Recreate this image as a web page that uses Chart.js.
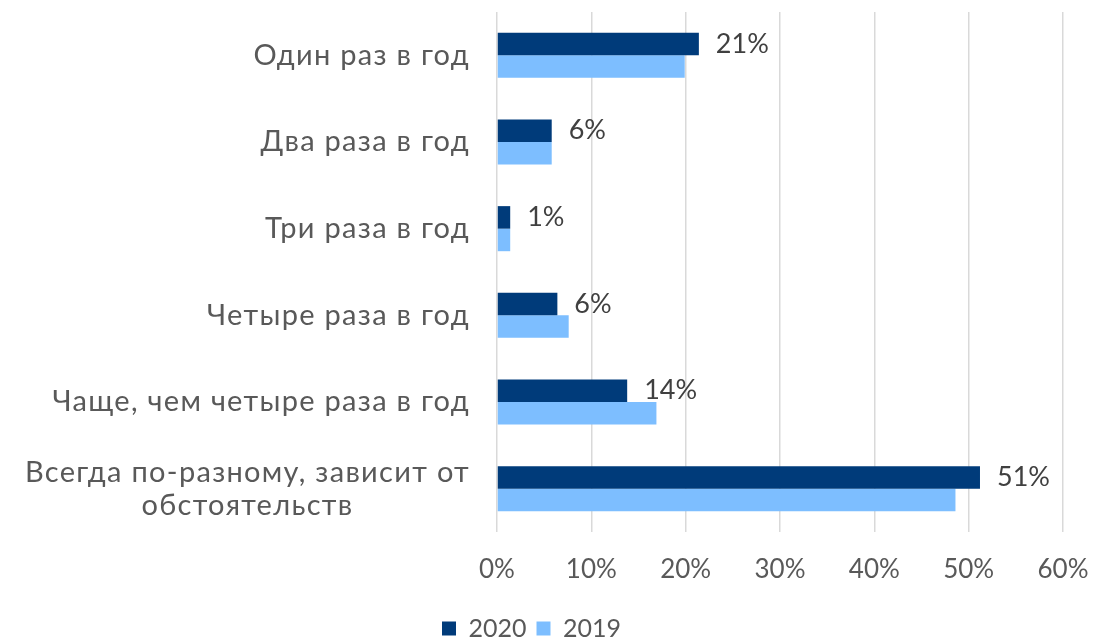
<!DOCTYPE html>
<html>
<head>
<meta charset="utf-8">
<script src="https://cdn.jsdelivr.net/npm/chart.js@4"></script>
<style>
  body { margin: 0; background: #fff; }
  #wrap { width: 1095px; height: 641px; }
</style>
</head>
<body>
<div id="wrap"><canvas id="chart"></canvas></div>
<script>
const categories = [
  ["Один раз в год"],
  ["Два раза в год"],
  ["Три раза в год"],
  ["Четыре раза в год"],
  ["Чаще, чем четыре раза в год"],
  ["Всегда по-разному, зависит от", "обстоятельств"]
];
const values2020 = [21.4, 5.8, 1.4, 6.4, 13.8, 51.2];
const values2019 = [19.9, 5.8, 1.4, 7.6, 16.9, 48.6];
const xTicks = [0, 10, 20, 30, 40, 50, 60];

const FONT = "Lato, 'Open Sans', sans-serif";
const TEXT = "#595959";

// подписи категорий: короткие - по правому краю, многострочные - по центру
const yLabels = {
  id: "yLabels",
  afterDraw(c) {
    const ctx = c.ctx;
    const y = c.scales.y;
    ctx.save();
    ctx.font = "29px " + FONT;
    ctx.letterSpacing = "1.3px";
    ctx.fillStyle = TEXT;
    ctx.textBaseline = "middle";
    ctx.textAlign = "center";
    const right = c.chartArea.left - 27;
    categories.forEach((lines, i) => {
      const w = Math.max(...lines.map(s => ctx.measureText(s).width));
      const cx = right - w / 2;
      const cy = y.getPixelForValue(i);
      const lh = 33;
      lines.forEach((s, k) => {
        ctx.fillText(s, cx, cy + (k - (lines.length - 1) / 2) * lh);
      });
    });
    ctx.restore();
  }
};

// подписи значений для 2020
const valueLabels = {
  id: "valueLabels",
  afterDatasetsDraw(c) {
    const ctx = c.ctx;
    const meta = c.getDatasetMeta(0);
    ctx.save();
    ctx.font = "27px " + FONT;
    ctx.fillStyle = "#404040";
    ctx.textBaseline = "middle";
    ctx.textAlign = "left";
    meta.data.forEach((bar, i) => {
      ctx.fillText(Math.round(values2020[i]) + "%", bar.x + 17, bar.y);
    });
    ctx.restore();
  }
};

new Chart(document.getElementById("chart"), {
  type: "bar",
  data: {
    labels: categories,
    datasets: [
      { label: "2020", data: values2020, backgroundColor: "#003B7A" },
      { label: "2019", data: values2019, backgroundColor: "#7DBEFF" }
    ]
  },
  options: {
    indexAxis: "y",
    responsive: true,
    maintainAspectRatio: false,
    animation: false,
    categoryPercentage: 0.52,
    barPercentage: 1.0,
    layout: { padding: { top: 12, left: 0, right: 32, bottom: -10 } },
    plugins: {
      legend: {
        position: "bottom",
        labels: {
          font: { family: FONT, size: 25, lineHeight: 1 },
          color: TEXT,
          boxWidth: 14,
          boxHeight: 14,
          padding: 10
        }
      },
      tooltip: { enabled: false }
    },
    scales: {
      x: {
        min: 0,
        max: 60,
        afterBuildTicks: s => { s.ticks = xTicks.map(v => ({ value: v })); },
        afterFit: s => { s.height = 74; s.paddingRight = 0; s.paddingLeft = 0; },
        grid: { color: "#d9d9d9", lineWidth: 1.5, drawTicks: false },
        border: { display: false },
        ticks: {
          font: { family: FONT, size: 26 },
          color: TEXT,
          padding: 22,
          maxRotation: 0,
          callback: v => v + "%"
        }
      },
      y: {
        grid: { display: false },
        border: { display: false },
        ticks: { display: false },
        afterFit: s => { s.width = 497; }
      }
    }
  },
  plugins: [yLabels, valueLabels]
});
</script>
</body>
</html>
